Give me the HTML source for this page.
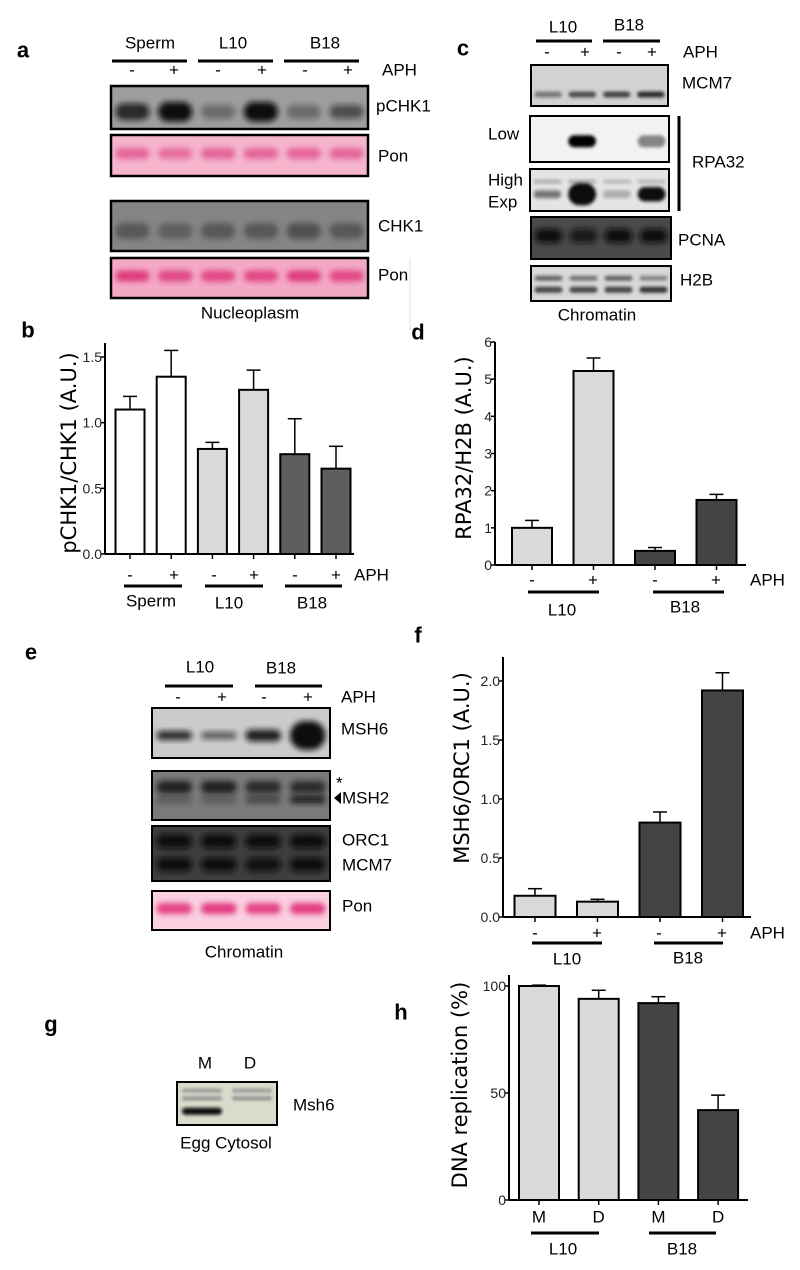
<!DOCTYPE html>
<html><head><meta charset="utf-8"><style>
body{margin:0;background:#fff}
svg{display:block}
text{font-family:"Liberation Sans Narrow","Liberation Sans",sans-serif;fill:#000}
.lbl{font-weight:bold;font-size:22px;font-family:"Liberation Sans",sans-serif}
.t{font-size:17px}
.tk{font-size:14px;fill:#222}
.yt{font-size:21px;font-family:"DejaVu Sans","Liberation Sans",sans-serif}
</style></head><body>
<svg id="fig" width="800" height="1270" viewBox="0 0 800 1270" xmlns="http://www.w3.org/2000/svg">
<defs>
<filter id="bl" x="-20%" y="-50%" width="140%" height="200%"><feGaussianBlur stdDeviation="3"/></filter>
<filter id="bl2" x="-20%" y="-50%" width="140%" height="200%"><feGaussianBlur stdDeviation="1.6"/></filter>
</defs>
<g id="root"></g>
</svg>
<script>
// ---- chart data ----
const bCats = ["Sperm -","Sperm +","L10 -","L10 +","B18 -","B18 +"];
const bVals = [1.1,1.35,0.8,1.25,0.76,0.65];
const bErr = [0.1,0.2,0.05,0.15,0.27,0.17];
const bTicks = [0,0.5,1.0,1.5];
const bTickLabels = ["0.0","0.5","1.0","1.5"];
const dCats = ["L10 -","L10 +","B18 -","B18 +"];
const dVals = [1.0,5.22,0.38,1.75];
const dErr = [0.2,0.35,0.09,0.15];
const dTicks = [0,1,2,3,4,5,6];
const dTickLabels = ["0","1","2","3","4","5","6"];
const fCats = ["L10 -","L10 +","B18 -","B18 +"];
const fVals = [0.18,0.13,0.8,1.92];
const fErr = [0.06,0.02,0.09,0.15];
const fTicks = [0,0.5,1.0,1.5,2.0];
const fTickLabels = ["0.0","0.5","1.0","1.5","2.0"];
const hCats = ["L10 M","L10 D","B18 M","B18 D"];
const hVals = [100,94,92,42];
const hErr = [0.4,4,3,7];
const hTicks = [0,50,100];
const hTickLabels = ["0","50","100"];

const NS="http://www.w3.org/2000/svg";
const root=document.getElementById('root');
function el(tag,attrs,parent,txt){const e=document.createElementNS(NS,tag);for(const k in attrs)e.setAttribute(k,attrs[k]);if(txt!==undefined)e.textContent=txt;(parent||root).appendChild(e);return e;}
function txt(x,y,s,cls,name,anchor){const t=el('text',{x:x,y:y,class:cls||'t','text-anchor':anchor||'middle','dominant-baseline':'central'},root,s);

return t;}
function line(x1,y1,x2,y2,w,name){const l=el('line',{x1:x1,y1:y1,x2:x2,y2:y2,stroke:'#000','stroke-width':w||3});

return l;}

function blot(name,x,y,w,h,bg,bands,border){
  const g=el('g',{});
  
  
  el('rect',{x:x,y:y,width:w,height:h,fill:bg},g);
  const n=bands.lanes;const lw=w/n;
  bands.rows.forEach(r=>{
    for(let i=0;i<n;i++){const v=r.int[i];if(!v)continue;
      const bh=r.h*(r.grow?(1+r.grow[i]):1);
      el('rect',{x:x+lw*i+lw*0.1,y:y+h*r.y-bh/2,width:lw*0.8,height:bh,rx:bh/2,fill:r.c,opacity:v,filter:'url(#'+(r.f||'bl')+')'},g);}
  });
  el('rect',{x:x,y:y,width:w,height:h,fill:'none',stroke:'#000','stroke-width':border||2.5},g);
}

function bars(name,o){
  const g=el('g',{});
  
  
  const ys=v=>o.y0-(v-o.tmin)*(o.y0-o.ytop)/(o.tmax-o.tmin);
  const ax=el('line',{x1:o.ax,y1:o.axTop,x2:o.ax,y2:o.y0,stroke:'#000','stroke-width':2},g);
  
  
  const xx=el('line',{x1:o.ax,y1:o.y0,x2:o.axEnd,y2:o.y0,stroke:'#000','stroke-width':2},g);
  
  
  o.ticks.forEach((t,i)=>{
    const y=ys(t);
    el('line',{x1:o.ax-4,y1:y,x2:o.ax,y2:y,stroke:'#000','stroke-width':1.5},g);
    const tl=el('text',{x:o.ax-3,y:y,class:'tk','text-anchor':'end','dominant-baseline':'central'},g,o.tickLabels[i]);
    
    
  });
  o.vals.forEach((v,i)=>{
    const cx=o.cx0+i*o.step;const top=ys(v);const et=ys(v+o.err[i]);
    const eb=el('line',{x1:cx,y1:top,x2:cx,y2:et,stroke:'#000','stroke-width':1.5},g);
    
    
    el('line',{x1:cx-7,y1:et,x2:cx+7,y2:et,stroke:'#000','stroke-width':1.5},g);
    const r=el('rect',{x:cx-o.bw/2,y:top,width:o.bw,height:o.y0-top,fill:o.colors[i],stroke:'#000','stroke-width':2},g);
    
    
    el('line',{x1:cx,y1:o.y0,x2:cx,y2:o.y0+5,stroke:'#000','stroke-width':1.5},g);
  });
  const yt=el('text',{x:o.ytx,y:o.yty,class:'yt','text-anchor':'middle','dominant-baseline':'central',transform:'rotate(-90 '+o.ytx+' '+o.yty+')'},g,o.title);
  
  
}

const W='#ffffff',L='#d9d9d9',D='#444444',D2='#5e5e5e';

// Panel a
txt(23,50,'a','lbl','panel-label-a');
txt(150,43,'Sperm','t','label-sperm');txt(233,43,'L10','t','label-l10');txt(325,43,'B18','t','label-b18');
line(112,61,187,61);line(198,61,273,61);line(284,61,359,61);
[132,174,218,262,305,348].forEach((x,i)=>txt(x,70,i%2?'+':'-','t','aph-sign'));
txt(382,70,'APH','t','label-aph','start');
blot('blot-pchk1',111,86,257,43,'#9e9e9e',{lanes:6,rows:[{y:0.6,h:14,c:'#111',int:[0.8,1,0.35,1,0.35,0.55],grow:[0.2,0.4,0,0.4,0,0]}]});
blot('blot-pon-1',111,135,257,41,'#f5b5cd',{lanes:6,rows:[{y:0.45,h:11,c:'#e0508c',int:[0.8,0.7,0.8,0.8,0.8,0.8]}]});
blot('blot-chk1',111,201,257,50,'#858585',{lanes:6,rows:[{y:0.6,h:16,c:'#3a3a3a',int:[0.6,0.5,0.6,0.6,0.7,0.6]}]});
blot('blot-pon-2',111,258,257,40,'#f3a9c4',{lanes:6,rows:[{y:0.45,h:11,c:'#dc2f75',int:[0.9,0.8,0.8,0.8,0.9,0.8]}]});
txt(376,106,'pCHK1','t','label-pchk1','start');txt(378,156,'Pon','t','label-pon','start');
txt(378,226,'CHK1','t','label-chk1','start');txt(378,275,'Pon','t','label-pon','start');
txt(250,313,'Nucleoplasm','t','label-nucleoplasm');
line(410,258,410,330,1,'divider');root.lastChild.setAttribute('stroke','#ddd');

// Panel c
txt(463,48,'c','lbl','panel-label-c');
txt(563,27,'L10','t','label-l10');txt(629,25,'B18','t','label-b18');
line(536,41,592,41);line(603,41,660,41);
[547,585,619,652].forEach((x,i)=>txt(x,52,i%2?'+':'-','t','aph-sign'));
txt(683,52,'APH','t','label-aph','start');
blot('blot-mcm7',531,65,137,41,'#d2d2d2',{lanes:4,rows:[{y:0.72,h:6,c:'#222',int:[0.5,0.75,0.8,0.95],f:'bl2'}]},2);
blot('blot-rpa32-low',530,116,139,46,'#f2f2f2',{lanes:4,rows:[{y:0.55,h:12,c:'#000',int:[0,1,0,0.45],f:'bl2'}]},2);
blot('blot-rpa32-high',530,169,139,42,'#e4e4e4',{lanes:4,rows:[{y:0.3,h:4,c:'#777',int:[0.5,0.5,0.4,0.4],f:'bl2'},{y:0.6,h:8,c:'#111',int:[0.5,1,0.25,1],grow:[0,1.8,0,0.8],f:'bl2'}]},2);
blot('blot-pcna',531,217,140,42,'#4a4a4a',{lanes:4,rows:[{y:0.45,h:14,c:'#0a0a0a',int:[1,0.8,1,1]}]},2);
blot('blot-h2b',531,266,140,35,'#d8d8d8',{lanes:4,rows:[{y:0.35,h:5,c:'#333',int:[0.7,0.6,0.7,0.5],f:'bl2'},{y:0.68,h:6,c:'#222',int:[0.8,0.8,0.8,0.9],f:'bl2'}]},2);
txt(682,83,'MCM7','t','label-mcm7','start');
txt(488,134,'Low','t','label-low','start');txt(488,180,'High','t','label-high','start');txt(488,202,'Exp','t','label-exp','start');
line(679,116,679,211,3,'rpa32-bracket');
txt(692,162,'RPA32','t','label-rpa32','start');
txt(678,240,'PCNA','t','label-pcna','start');txt(680,280,'H2B','t','label-h2b','start');
txt(597,315,'Chromatin','t','label-chromatin');

// Panel b
txt(28,330,'b','lbl','panel-label-b');
bars('chart-b',{ax:105,axTop:343,axEnd:354,y0:554,ytop:357,tmin:0,tmax:1.5,ticks:bTicks,tickLabels:bTickLabels,
  vals:bVals,err:bErr,cats:bCats,cx0:130,step:41.2,bw:29,colors:[W,W,L,L,D2,D2],title:'pCHK1/CHK1 (A.U.)',ytx:69,yty:453});
[130,174,214,254,295,336].forEach((x,i)=>txt(x,575,i%2?'+':'-','t','aph-sign'));
txt(354,575,'APH','t','label-aph','start');
line(124,586,182,586);line(205,586,263,586);line(285,586,342,586);
txt(151,601,'Sperm','t','label-sperm');txt(229,603,'L10','t','label-l10');txt(312,603,'B18','t','label-b18');

// Panel d
txt(418,332,'d','lbl','panel-label-d');
bars('chart-d',{ax:495,axTop:342,axEnd:746,y0:565,ytop:342,tmin:0,tmax:6,ticks:dTicks,tickLabels:dTickLabels,
  vals:dVals,err:dErr,cats:dCats,cx0:532,step:61.5,bw:40,colors:[L,L,D,D],title:'RPA32/H2B (A.U.)',ytx:464,yty:448});
[532,593,655,716].forEach((x,i)=>txt(x,580,i%2?'+':'-','t','aph-sign'));
txt(750,580,'APH','t','label-aph','start');
line(528,592,599,592);line(653,592,724,592);
txt(562,610,'L10','t','label-l10');txt(685,607,'B18','t','label-b18');

// Panel e
txt(31,652,'e','lbl','panel-label-e');
txt(200,667,'L10','t','label-l10');txt(281,668,'B18','t','label-b18');
line(165,686,233,686);line(255,686,322,686);
[178,222,264,308].forEach((x,i)=>txt(x,697,i%2?'+':'-','t','aph-sign'));
txt(341,697,'APH','t','label-aph','start');
blot('blot-msh6',152,708,178,50,'#cbcbcb',{lanes:4,rows:[{y:0.55,h:9,c:'#111',int:[0.85,0.6,0.9,1],grow:[0,-0.2,0.3,2.2]}]},2);
blot('blot-msh2',152,771,178,49,'#7a7a7a',{lanes:4,rows:[{y:0.33,h:12,c:'#151515',int:[0.9,0.9,0.8,0.8]},{y:0.58,h:8,c:'#151515',int:[0.3,0.3,0.5,0.9]}]},2);
blot('blot-orc1-mcm7',152,826,178,55,'#3e3e3e',{lanes:4,rows:[{y:0.28,h:14,c:'#080808',int:[1,1,1,1]},{y:0.7,h:14,c:'#080808',int:[1,1,0.9,1]}]},2);
blot('blot-pon-e',152,891,178,39,'#fbd0e0',{lanes:4,rows:[{y:0.45,h:11,c:'#e0307a',int:[0.9,0.95,0.9,0.95]}]},2);
txt(341,729,'MSH6','t','label-msh6','start');
txt(336,783,'*','t','label-asterisk','start');
el('polygon',{points:'334,798 341,792 341,804',fill:'#000'});
txt(342,798,'MSH2','t','label-msh2','start');
txt(342,840,'ORC1','t','label-orc1','start');txt(342,865,'MCM7','t','label-mcm7','start');
txt(342,906,'Pon','t','label-pon','start');
txt(244,952,'Chromatin','t','label-chromatin');

// Panel f
txt(418,635,'f','lbl','panel-label-f');
bars('chart-f',{ax:503,axTop:657,axEnd:751,y0:917,ytop:681,tmin:0,tmax:2,ticks:fTicks,tickLabels:fTickLabels,
  vals:fVals,err:fErr,cats:fCats,cx0:535,step:62.5,bw:41,colors:[L,L,D,D],title:'MSH6/ORC1 (A.U.)',ytx:462,yty:768});
[535,597,659,722].forEach((x,i)=>txt(x,933,i%2?'+':'-','t','aph-sign'));
txt(750,933,'APH','t','label-aph','start');
line(532,943,602,943);line(654,943,723,943);
txt(567,959,'L10','t','label-l10');txt(688,958,'B18','t','label-b18');

// Panel g
txt(51,1024,'g','lbl','panel-label-g');
txt(205,1063,'M','t','label-m');txt(250,1063,'D','t','label-d');
blot('blot-msh6-egg',177,1082,100,43,'#d9dccb',{lanes:2,rows:[{y:0.2,h:4,c:'#556',int:[0.5,0.5],f:'bl2'},{y:0.38,h:4,c:'#445',int:[0.5,0.5],f:'bl2'},{y:0.68,h:7,c:'#0a0a0a',int:[1,0],f:'bl2'}]},2);
txt(293,1105,'Msh6','t','label-msh6','start');
txt(226,1143,'Egg Cytosol','t','label-egg-cytosol');

// Panel h
txt(401,1012,'h','lbl','panel-label-h');
bars('chart-h',{ax:509,axTop:975,axEnd:748,y0:1200,ytop:986,tmin:0,tmax:100,ticks:hTicks,tickLabels:hTickLabels,
  vals:hVals,err:hErr,cats:hCats,cx0:539,step:59.7,bw:40,colors:[L,L,D,D],title:'DNA replication (%)',ytx:460,yty:1085});
['M','D','M','D'].forEach((s,i)=>txt(539+i*59.7,1217,s,'t','x-label-'+s.toLowerCase()));
line(531,1233,599,1233);line(649,1233,716,1233);
txt(563,1249,'L10','t','label-l10');txt(682,1249,'B18','t','label-b18');
</script>
</body></html>
